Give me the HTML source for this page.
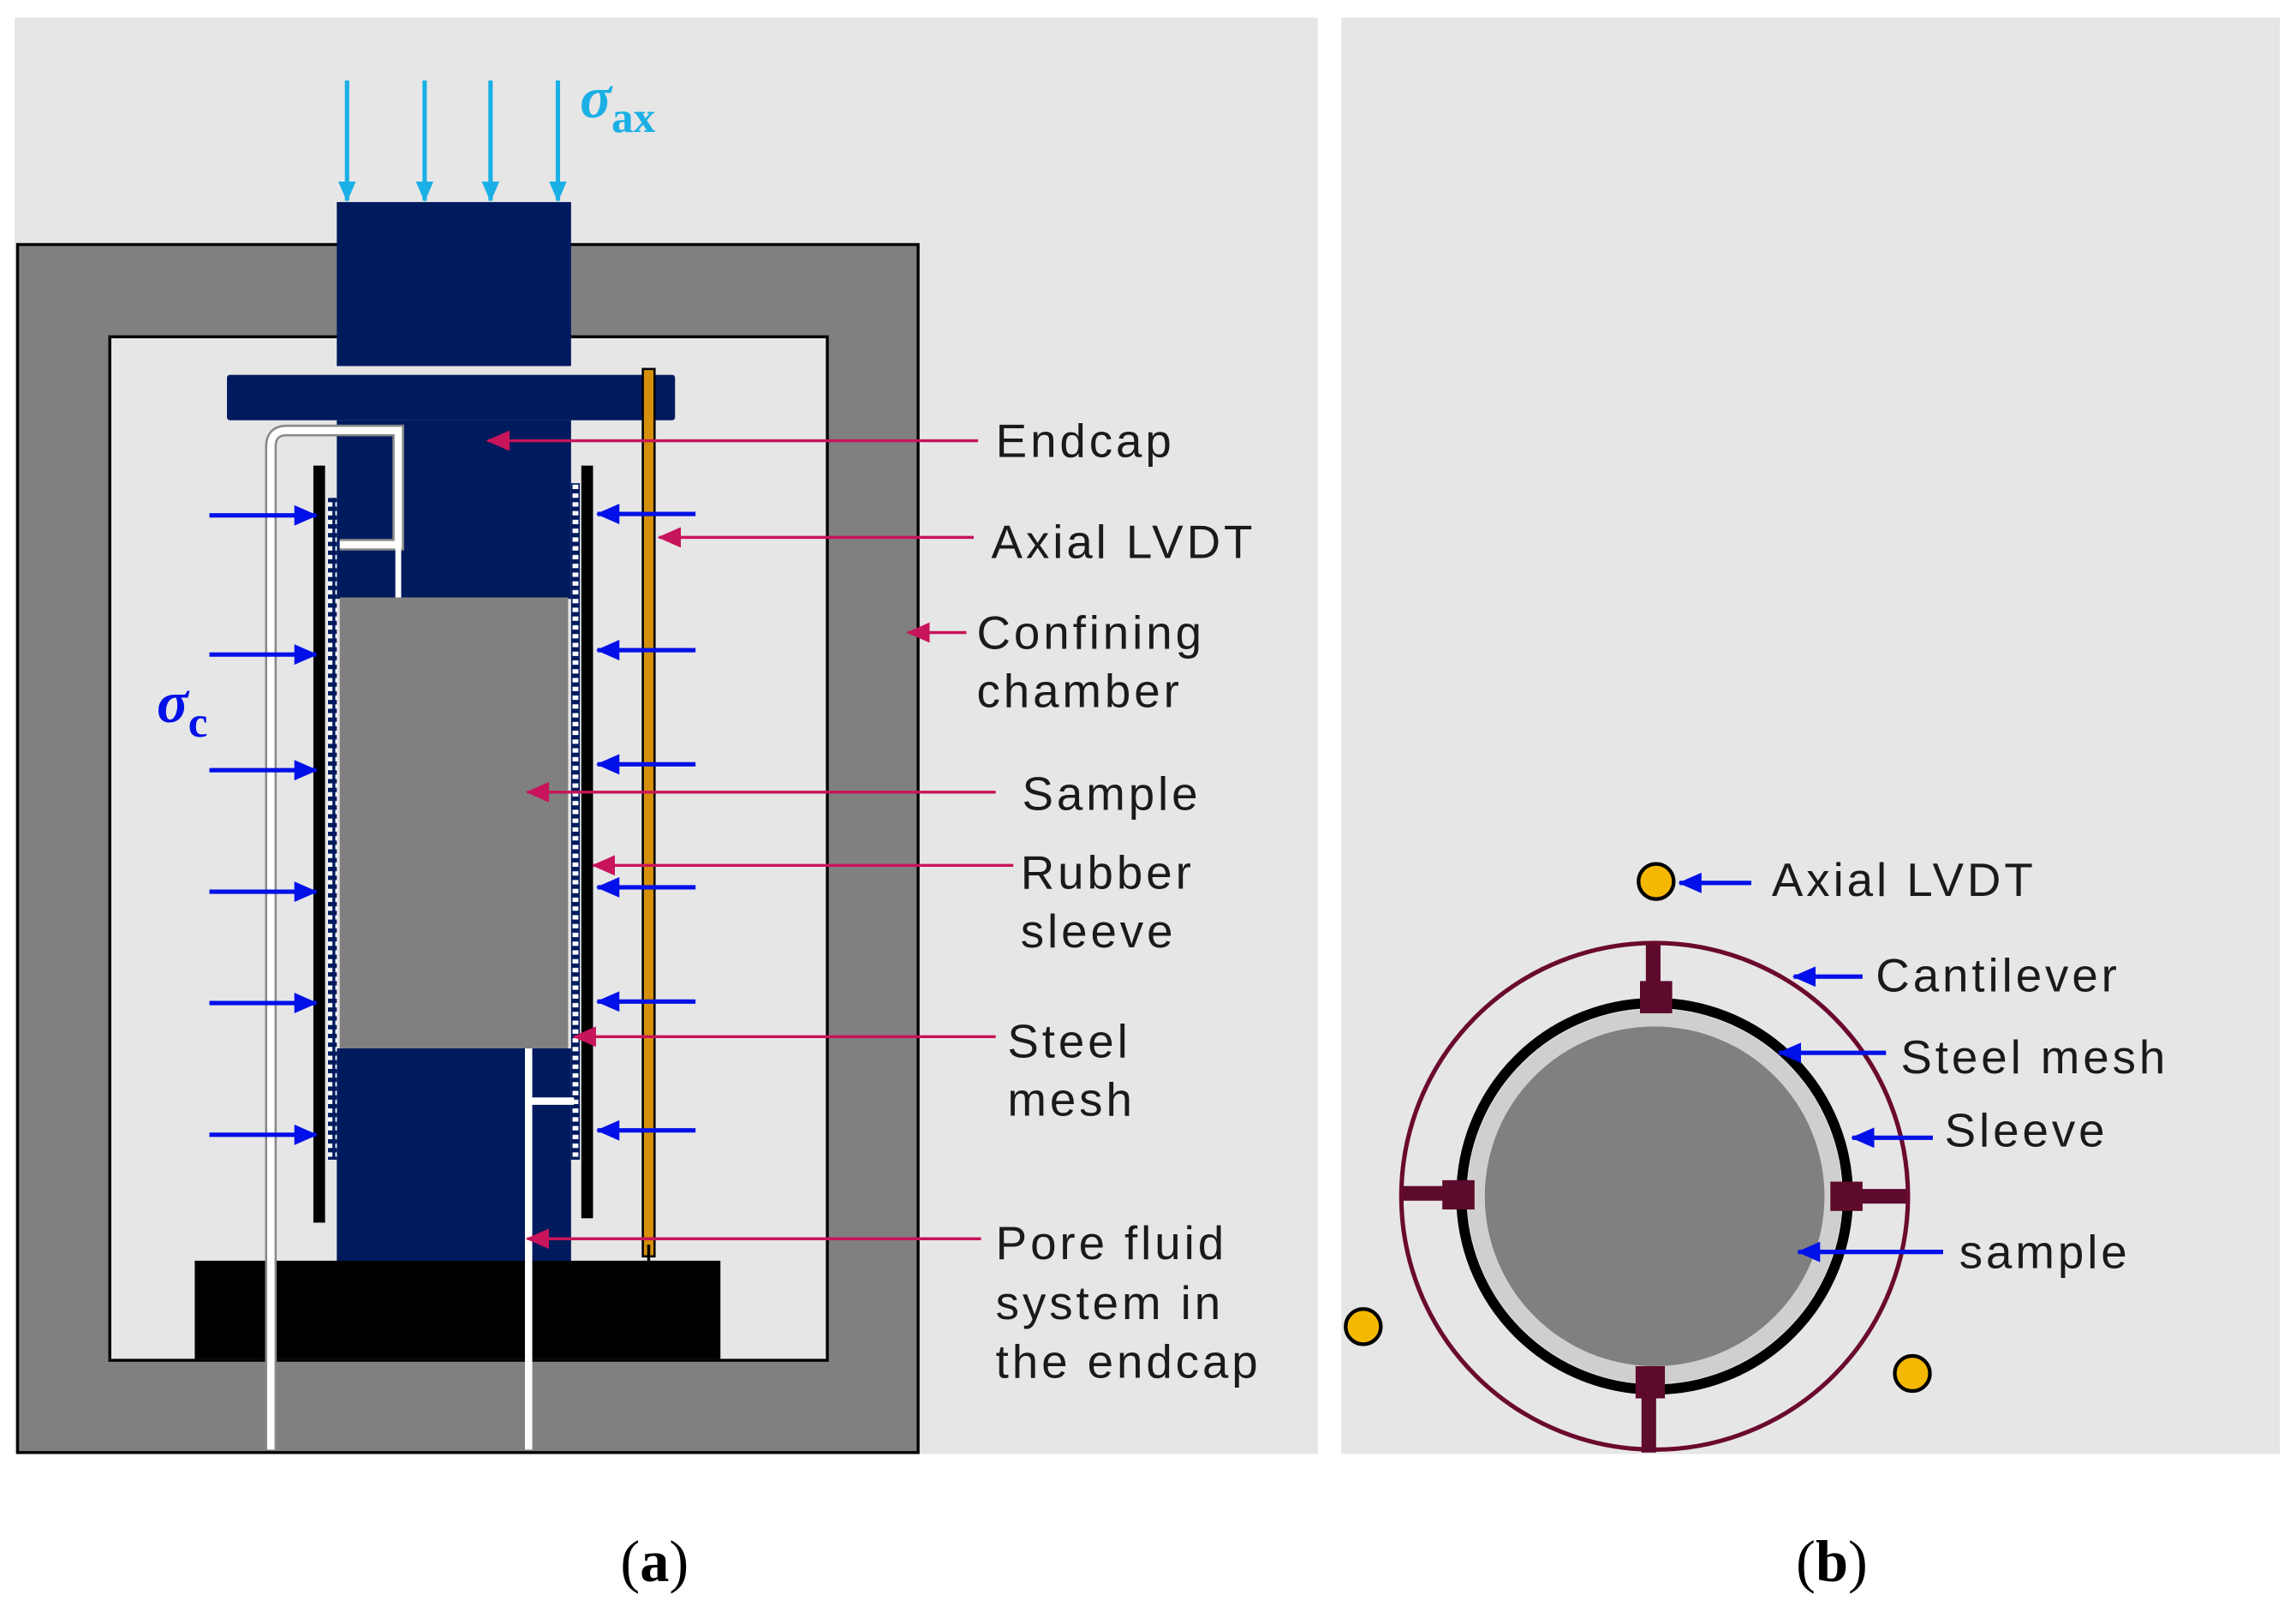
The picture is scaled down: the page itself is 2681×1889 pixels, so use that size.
<!DOCTYPE html>
<html><head><meta charset="utf-8"><style>html,body{margin:0;padding:0;background:#fff}svg{display:block}</style></head>
<body>
<svg width="2681" height="1889" viewBox="0 0 1568 1105" preserveAspectRatio="none" xmlns="http://www.w3.org/2000/svg">
<defs>
<marker id="mg" markerWidth="16" markerHeight="14" refX="15" refY="7" orient="auto" markerUnits="userSpaceOnUse" viewBox="0 0 16 14"><path d="M0,0 L16,7 L0,14 z" fill="#c8145a"/></marker>
<marker id="bl" markerWidth="16" markerHeight="14" refX="15" refY="7" orient="auto" markerUnits="userSpaceOnUse" viewBox="0 0 16 14"><path d="M0,0 L16,7 L0,14 z" fill="#0010e8"/></marker>
<marker id="cy" markerWidth="14" markerHeight="12" refX="13" refY="6" orient="auto" markerUnits="userSpaceOnUse" viewBox="0 0 14 12"><path d="M0,0 L14,6 L0,12 z" fill="#1ab0e6"/></marker>
<pattern id="dots" width="6" height="6" patternUnits="userSpaceOnUse"><rect width="6" height="6" fill="#001a5e"/><rect x="1" y="1" width="4" height="3" fill="#fff"/></pattern>
</defs>
<rect x="0" y="0" width="1568" height="1105" fill="#fff"/>
<rect x="10" y="12" width="890" height="981" fill="#e6e6e6"/>
<rect x="916" y="12" width="641" height="981" fill="#e6e6e6"/>
<rect x="12" y="167" width="615" height="825" fill="#808080" stroke="#000" stroke-width="2"/>
<rect x="75" y="230" width="490" height="699" fill="#e6e6e6" stroke="#000" stroke-width="2"/>
<rect x="230" y="138" width="160" height="112" fill="#001a5e"/>
<rect x="155" y="256" width="306" height="31" fill="#001a5e" rx="2"/>
<rect x="230" y="287" width="160" height="122" fill="#001a5e"/>
<rect x="232" y="408" width="156" height="308" fill="#808080"/>
<rect x="230" y="716" width="160" height="146" fill="#001a5e"/>
<rect x="133" y="861" width="359" height="67" fill="#000"/>
<rect x="214" y="318" width="8" height="517" fill="#000"/>
<rect x="397" y="318" width="8" height="514" fill="#000"/>
<rect x="224" y="340" width="6" height="452" fill="url(#dots)"/>
<rect x="390" y="330" width="6" height="462" fill="url(#dots)"/>
<rect x="439" y="252" width="8" height="606" fill="#d4900a" stroke="#000" stroke-width="1.5"/>
<path d="M443,850 L443,862" stroke="#000" stroke-width="2"/>
<path d="M185,990 L185,305 Q185,294 196,294 L272,294 L272,372 L232,372" fill="none" stroke="#888" stroke-width="8"/>
<path d="M185,990 L185,305 Q185,294 196,294 L272,294 L272,372 L232,372" fill="none" stroke="#fff" stroke-width="5"/>
<path d="M272,372 L272,408" stroke="#fff" stroke-width="4"/>
<path d="M361,990 L361,752 L392,752 M361,752 L361,716" fill="none" stroke="#fff" stroke-width="5"/>
<g stroke="#0010e8" stroke-width="3" marker-end="url(#bl)">
<line x1="143" y1="352" x2="216" y2="352"/><line x1="143" y1="447" x2="216" y2="447"/><line x1="143" y1="526" x2="216" y2="526"/><line x1="143" y1="609" x2="216" y2="609"/><line x1="143" y1="685" x2="216" y2="685"/><line x1="143" y1="775" x2="216" y2="775"/>
<line x1="475" y1="351" x2="408" y2="351"/><line x1="475" y1="444" x2="408" y2="444"/><line x1="475" y1="522" x2="408" y2="522"/><line x1="475" y1="606" x2="408" y2="606"/><line x1="475" y1="684" x2="408" y2="684"/><line x1="475" y1="772" x2="408" y2="772"/>
</g>
<g stroke="#1ab0e6" stroke-width="3" marker-end="url(#cy)">
<line x1="237" y1="55" x2="237" y2="137"/><line x1="290" y1="55" x2="290" y2="137"/><line x1="335" y1="55" x2="335" y2="137"/><line x1="381" y1="55" x2="381" y2="137"/>
</g>
<text x="396" y="80" font-family="Liberation Serif, serif" font-style="italic" font-weight="bold" font-size="40" fill="#1ab0e6">σ<tspan font-style="normal" font-size="30" dy="10">ax</tspan></text>
<text x="107" y="493" font-family="Liberation Serif, serif" font-style="italic" font-weight="bold" font-size="40" fill="#0010e8">σ<tspan font-style="normal" font-size="30" dy="10">c</tspan></text>
<g stroke="#c8145a" stroke-width="2" marker-end="url(#mg)">
<line x1="668" y1="301" x2="333" y2="301"/><line x1="665" y1="367" x2="450" y2="367"/><line x1="660" y1="432" x2="620" y2="432"/><line x1="680" y1="541" x2="360" y2="541"/><line x1="692" y1="591" x2="405" y2="591"/><line x1="680" y1="708" x2="392" y2="708"/><line x1="670" y1="846" x2="360" y2="846"/>
</g>
<g font-family="Liberation Sans, sans-serif" font-size="32" fill="#1a1a1a" letter-spacing="2.3">
<text x="680" y="312">Endcap</text><text x="677" y="381">Axial LVDT</text>
<text x="667" y="443">Confining</text><text x="667" y="483">chamber</text>
<text x="698" y="553">Sample</text>
<text x="697" y="607">Rubber</text><text x="697" y="647">sleeve</text>
<text x="688" y="722">Steel</text><text x="688" y="762">mesh</text>
<text x="680" y="860">Pore fluid</text><text x="680" y="901">system in</text><text x="680" y="941">the endcap</text>
</g>
<circle cx="1130" cy="817" r="173" fill="none" stroke="#6a0a2e" stroke-width="3"/>
<circle cx="1130" cy="817" r="132" fill="none" stroke="#000" stroke-width="7"/>
<circle cx="1130" cy="817" r="122" fill="none" stroke="#cfcfcf" stroke-width="12"/>
<circle cx="1130" cy="817" r="116" fill="#808080"/>
<g fill="#5e0a2c">
<rect x="1124" y="645" width="10" height="40"/><rect x="1120" y="670" width="22" height="22"/>
<rect x="1121" y="950" width="10" height="42"/><rect x="1117" y="933" width="20" height="22"/>
<rect x="958" y="810" width="40" height="10"/><rect x="985" y="806" width="22" height="20"/>
<rect x="1265" y="812" width="37" height="10"/><rect x="1250" y="807" width="22" height="20"/>
</g>
<g fill="#f5b800" stroke="#000" stroke-width="2.5">
<circle cx="1131" cy="602" r="12"/><circle cx="931" cy="906" r="12"/><circle cx="1306" cy="938" r="12"/>
</g>
<g stroke="#0010e8" stroke-width="3" marker-end="url(#bl)">
<line x1="1196" y1="603" x2="1147" y2="603"/><line x1="1272" y1="667" x2="1225" y2="667"/><line x1="1288" y1="719" x2="1215" y2="719"/><line x1="1320" y1="777" x2="1265" y2="777"/><line x1="1327" y1="855" x2="1228" y2="855"/>
</g>
<g font-family="Liberation Sans, sans-serif" font-size="32" fill="#1a1a1a" letter-spacing="2.3">
<text x="1210" y="612">Axial LVDT</text><text x="1281" y="677">Cantilever</text><text x="1298" y="733">Steel mesh</text><text x="1328" y="783">Sleeve</text><text x="1338" y="866">sample</text>
</g>
<g font-family="Liberation Serif, serif" font-size="40" fill="#000">
<text x="447" y="1080" text-anchor="middle">(<tspan font-weight="bold">a</tspan>)</text>
<text x="1251" y="1080" text-anchor="middle">(<tspan font-weight="bold">b</tspan>)</text>
</g>
</svg>
</body></html>
